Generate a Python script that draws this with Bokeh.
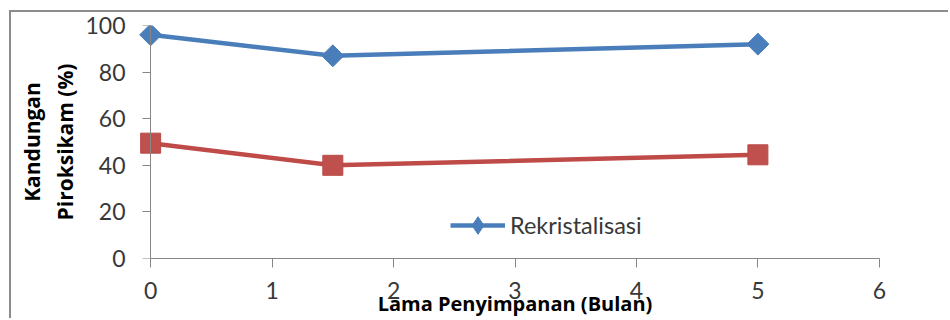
from math import pi

from bokeh.embed import file_html
from bokeh.models import FixedTicker, Legend, LegendItem, LinearAxis, Range1d
from bokeh.plotting import figure
from bokeh.resources import INLINE

# Storage time (months) and piroxicam content (%)
months = [0, 1.5, 5]
rekristalisasi = [96, 87, 92]
tanpa_rekristalisasi = [49.5, 40, 44.5]

x_ticks = [0, 1, 2, 3, 4, 5, 6]
y_ticks = [0, 20, 40, 60, 80, 100]

BLUE = "#4a7ebb"
RED = "#be4b48"
AXIS = "#868686"
TEXT = "#383838"
TICK_FONT = "23px"

p = figure(
    width=939, height=308,
    x_range=Range1d(-0.1, 6.1), y_range=Range1d(0, 100),
    output_backend="svg", toolbar_location=None,
    min_border_left=127, min_border_right=59,
    min_border_top=13, min_border_bottom=62,
)
p.margin = (10, 0, 0, 9)
p.styles = {"border-left": "2px solid #8c8c8c", "border-top": "2px solid #8c8c8c"}
p.outline_line_color = None
p.xgrid.visible = False
p.ygrid.visible = False

title_font = dict(axis_label_text_font="Open Sans", axis_label_text_font_style="bold",
                  axis_label_text_color="#000000")

# x axis: line and ticks only between 0 and 6
xa = p.xaxis[0]
xa.ticker = FixedTicker(ticks=x_ticks)
xa.bounds = (0, 6)
xa.axis_line_color = AXIS
xa.major_tick_line_color = AXIS
xa.minor_tick_line_color = None
xa.major_tick_in = 0
xa.major_tick_out = 9
xa.major_label_standoff = 14
xa.major_label_text_font = "Lato"
xa.major_label_text_font_size = TICK_FONT
xa.major_label_text_color = TEXT
xa.axis_label = "Lama Penyimpanan (Bulan)"
xa.axis_label_standoff = -12
xa.axis_label_text_font_size = "20px"
for k, v in title_font.items():
    setattr(xa, k, v)

# y axis labels and title sit at the frame's left edge
ya = p.yaxis[0]
ya.ticker = FixedTicker(ticks=y_ticks)
ya.axis_line_color = None
ya.major_tick_line_color = None
ya.minor_tick_line_color = None
ya.major_tick_in = 0
ya.major_tick_out = 0
ya.major_label_standoff = 13
ya.major_label_text_font = "Lato"
ya.major_label_text_font_size = TICK_FONT
ya.major_label_text_color = TEXT
ya.axis_label = "Kandungan\nPiroksikam (%)"
ya.axis_label_standoff = 3
ya.axis_label_text_line_height = 1.2
ya.axis_label_text_font_size = "21px"
for k, v in title_font.items():
    setattr(ya, k, v)

# y axis line and ticks drawn at x = 0 (ticks point left)
y_rule = LinearAxis(
    fixed_location=0, ticker=FixedTicker(ticks=y_ticks),
    axis_line_color=AXIS, major_tick_line_color=AXIS, minor_tick_line_color=None,
    major_tick_in=8, major_tick_out=0, major_label_text_color=None,
)
p.add_layout(y_rule, "right")

# Series lines and markers
blue_line = p.line(months, rekristalisasi, line_width=4.5, color=BLUE)
blue_key = p.scatter(months, rekristalisasi, marker="diamond", size=19,
                     fill_color=BLUE, line_color=BLUE)
p.scatter(months, rekristalisasi, marker="square", angle=pi / 4,
          size=15.5, fill_color=BLUE, line_color=BLUE)
p.line(months, tanpa_rekristalisasi, line_width=4.5, color=RED)
p.scatter(months, tanpa_rekristalisasi, marker="square", size=20,
          fill_color="#c0504d", line_color="#b84a47")

legend = Legend(
    items=[LegendItem(label="Rekristalisasi", renderers=[blue_line, blue_key])],
    location=(312, 11), glyph_width=55, glyph_height=44,
    padding=0, margin=0, spacing=0, label_standoff=5,
    border_line_color=None, background_fill_alpha=0,
    label_text_font="Lato", label_text_font_size="23.5px", label_text_color=TEXT,
)
p.add_layout(legend)

open("out.html", "w").write(file_html(p, INLINE))
